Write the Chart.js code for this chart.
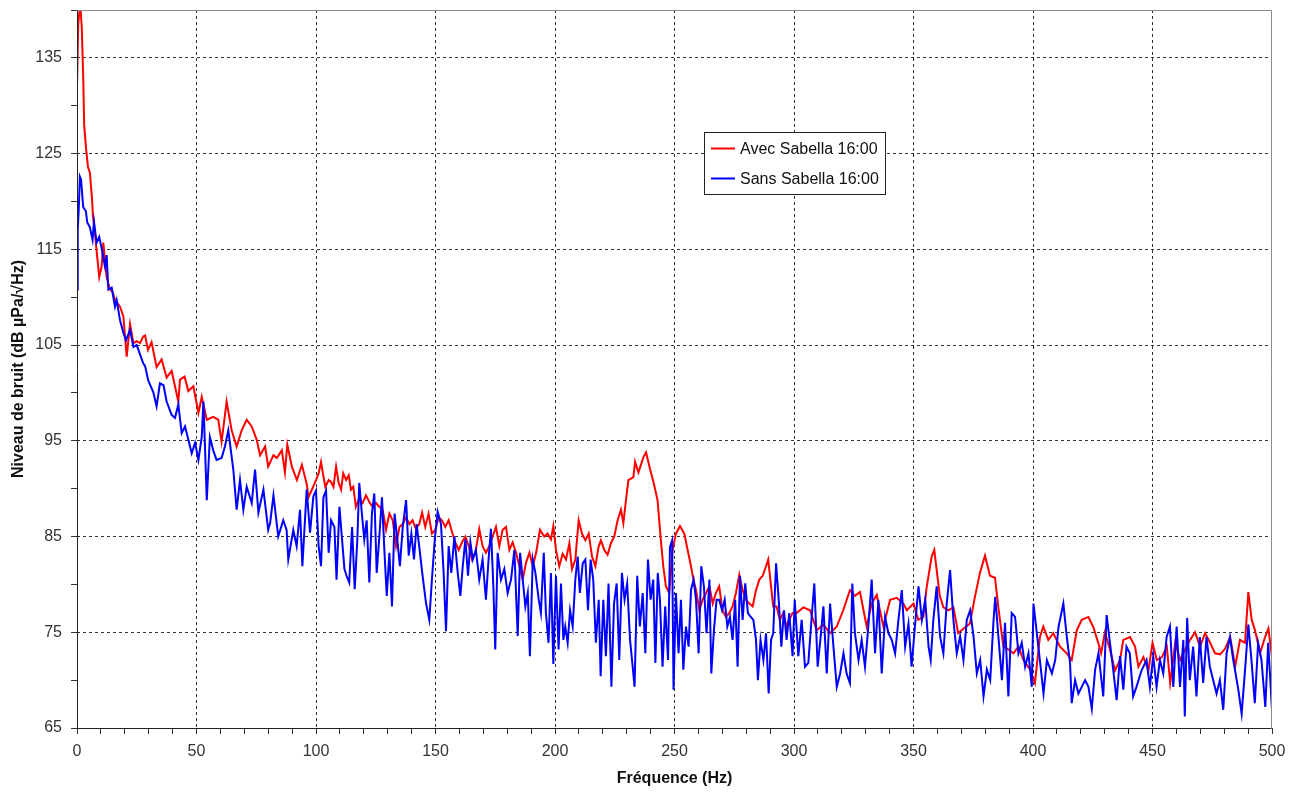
<!DOCTYPE html>
<html lang="fr">
<head>
<meta charset="utf-8">
<title>Niveau de bruit - Sabella</title>
<script src="https://cdn.jsdelivr.net/npm/chart.js@4.4.1/dist/chart.umd.min.js"></script>
<style>
  html, body { margin: 0; padding: 0; background: #fff; }
  #wrap { width: 1300px; height: 794px; }
</style>
</head>
<body>
<div id="wrap"><canvas id="spectre" width="1300" height="794"></canvas></div>
<script>
// ---- données ----
const avecLabel = "Avec Sabella 16:00";
const sansLabel = "Sans Sabella 16:00";

// Avec Sabella (rouge) : fréquence (Hz) / niveau (dB)
const avecFreq = [
  0, 0.5, 1, 1.5, 2, 2.6, 3, 3.8, 4.6, 5.4,
  6.3, 6.7, 7.5, 8.3, 9.3, 10.3, 11, 12.4, 13.8, 15,
  15.9, 18, 19.4, 20.8, 22.2, 23.6, 25, 26.4, 27.7, 28.5,
  29.7, 31.2, 33.3, 35.4, 37.5, 39.6, 42.4, 43.1, 45, 46.6,
  48.7, 50.8, 52.2, 54.3, 57, 59.1, 60.5, 62.6, 64.7, 66.8,
  68.9, 71, 73.1, 75.2, 76.6, 78.7, 80, 82.2, 83.6, 85.7,
  87, 88, 89.9, 92, 94.1, 96.2, 96.8, 98.3,
  100, 101.1, 102.1, 103.1, 103.9, 105.3, 106.3, 107.3, 108.4, 109.5,
  110.5, 111.4, 112.6, 113.7, 114.6, 115.6, 116.7, 118.1, 119.5, 120.9,
  122.3, 123.7, 125.1, 126.5, 127.9, 129.3, 130.7, 132.1, 133.5, 134.9,
  136.3, 137.7, 139.1, 140.4, 141.8, 143.2, 144.4, 145.7, 147.1, 148.5,
  149.9, 151.3, 152.7, 154.1, 155.5, 156.9, 158.3, 159.7, 161.1, 162.5,
  163.9, 165.3, 166.7, 168.3, 169.7, 171.1, 172.5, 173.9, 175.3, 176.7,
  178.1, 179.5, 180.9, 182.3, 183.7, 185.1, 186.5, 187.9, 189.3, 190.7,
  192.1, 193.7, 195.5, 196.9, 198.3, 199.3,
  200.4, 201.8, 203.2, 204.6, 206, 207.1, 208.5, 209.9, 211.3, 212.7,
  214.1, 215.5, 216.9, 218.2, 219.2, 220.6, 222, 223.4, 224.8, 226.2,
  227.6, 228.6, 229.7, 230.7, 232.8, 233.5, 234.9, 237, 238.1, 239.8,
  241.2, 242.9, 244.3, 245.3, 246.4, 247.8, 249.2, 250.6, 252.3, 254.1,
  255.5, 256.9, 257.9, 259, 260.4, 261.8, 263.2, 264.6, 266, 267.3,
  268.7, 270.1, 271.5, 272.9, 274.3, 275.7, 277.1, 278.5, 279.9, 281.3,
  282.7, 284.1, 285.5, 286.9, 288.3, 289.2, 290.4, 291.3, 292.7, 294.1,
  295.5, 296.9, 298, 299.4, 301.1, 303.9, 306.7, 309.5, 312.3, 315.1,
  317.9, 320.6, 323.4, 325.5, 327.6, 330.4, 332.5, 334.6, 337.4, 340.2,
  343, 345.8, 347.2, 350, 352, 354.1, 355.5, 357.6, 358.7, 359.7,
  361, 362.5, 364.6, 366.7, 368.7, 371.5, 373.6, 375.7, 377.8, 379.9,
  382, 384.1, 385.5, 387.6, 389.7, 391.8, 393.9, 396, 398.8, 400.8,
  402.9, 404.3, 406.4, 408.5, 411.3, 414.1, 416.2, 418.3, 420.4, 423.2,
  425.3, 427.4, 428.5, 430.1, 432.2, 434.3, 436.4, 437.8, 440.6, 442.7,
  444.1, 446.2, 448.3, 450, 451.8, 453.9, 456, 457.4, 459.5, 461.6,
  463.7, 465.7, 467.8, 469.9, 472, 474.1, 476.2, 478.3, 480.4, 482.5,
  484.6, 486.6, 488.7, 490.1, 491.5, 492.9, 495, 497.1, 498.5, 500
];
const avecLevel = [
  132, 138.5, 139.8, 140, 138.2, 133, 128, 125.5, 123.6, 123,
  120.2, 118.4, 116.7, 114.6, 112.1, 113.2, 115.7, 112.1, 110.8, 110.5,
  109.7, 109, 108, 103.8, 107.2, 105.2, 105.4, 105.2, 105.9, 106,
  104.5, 105.3, 102.7, 103.5, 101.6, 102.3, 99.1, 101.4, 101.7, 100.2,
  100.7, 97.9, 99.6, 97.2, 97.5, 97.2, 94.9, 99.1, 96.1, 94.4,
  96.1, 97.2, 96.5, 95.1, 93.5, 94.4, 92.3, 93.5, 93.2, 94,
  91.7, 94.6, 92.3, 90.9, 92.5, 90.4, 89.1, 89.9,
  90.9, 91.6, 92.8, 91.3, 90.2, 90.9, 90.7, 90.2, 92.3, 90.6,
  89.9, 91.6, 90.9, 91.4, 89.9, 90.2, 88.1, 89, 88.5, 89.3,
  88.6, 88.1, 88.5, 88.1, 87.8, 85.7, 87.4, 86.7, 84, 86,
  86.3, 87, 86.3, 86.7, 85.8, 86.3, 87.5, 86, 87.4, 85.3,
  85.7, 87, 86.7, 86, 86.7, 85.5, 84.4, 83.6, 84.4, 85,
  84, 82.6, 83.3, 85.8, 84, 83.3, 84, 85, 86, 84,
  85.7, 86, 83.6, 84.4, 83.3, 81.9, 80.5, 82.3, 83.3, 81.9,
  83.3, 85.7, 85, 85.3, 84.7, 86.1,
  83.6, 81.9, 83.2, 82.6, 84.3, 81.6, 82.6, 86.7, 85.3, 84.6,
  85.3, 82.9, 81.9, 83.9, 84.6, 83.6, 83.1, 84.3, 85, 86.7,
  87.8, 86.4, 88.8, 90.9, 91.2, 92.8, 91.7, 93.3, 93.8, 92,
  90.7, 88.8, 84.6, 81.9, 79.8, 79.1, 83.6, 85.3, 86.1, 85.3,
  83.6, 81.9, 80.5, 79.4, 77.3, 78.4, 79.1, 79.8, 78, 79.1,
  79.8, 77.3, 76.6, 77, 77.7, 79.1, 81, 79.4, 78.4, 78,
  77.7, 79.4, 80.5, 80.9, 81.9, 82.6, 79.8, 77.7, 77.7, 76.3,
  77, 75.6, 76.3, 77, 77, 77.6, 77.3, 75.2, 75.8, 74.9,
  75.6, 77.3, 79.4, 78.8, 79.2, 75.6, 78, 78.9, 75.6, 78.4,
  78.6, 78, 77.3, 78, 76.3, 76.6, 79.7, 82.9, 83.6, 81.5,
  78.8, 77.6, 77.3, 77.6, 74.9, 75.5, 75.9, 78.7, 81.2, 83,
  80.9, 80.7, 77.6, 73.5, 73.2, 72.8, 73.5, 72.1, 71.1, 69.7,
  74.5, 75.6, 74.2, 74.9, 73.5, 72.8, 72.1, 75.2, 76.3, 76.6,
  75.5, 73.8, 72.8, 75, 73.2, 71, 72.1, 74.2, 74.5, 73.5,
  71.4, 72.4, 71, 73.9, 72.1, 72.4, 73.5, 69.7, 73.9, 72.1,
  73.2, 74.2, 75, 73.5, 74.9, 73.9, 72.8, 72.7, 73.3, 74.5,
  71.4, 74.2, 73.9, 79.2, 76.3, 75.2, 72.8, 74.5, 75.4, 72.4
];

// Sans Sabella (bleu) : fréquence (Hz) / niveau (dB)
const sansFreq = [
  0, 0.3, 0.7, 1.2, 1.7, 2.6, 3.7, 4.3, 5.4, 6.5,
  7.1, 8.2, 9.3, 10.3, 11.7, 12.4, 13.1, 14.5, 15.9, 16.6,
  18, 19.4, 20.5, 22.2, 23.6, 25, 26.4, 27.7, 28.5, 29.8,
  31.9, 33.3, 34.7, 36.2, 37.5, 39.6, 41, 42.4, 43.8, 45.2,
  46.6, 48, 49.4, 50.8, 52.2, 52.9, 54.3, 55.6, 57, 58.4,
  60.5, 61.9, 63.3, 65.4, 66.8, 68.2, 69.6, 71, 73.1, 74.5,
  75.9, 78, 80, 80.8, 82.2, 84.2, 86.3, 87.7, 88.4, 90.5,
  91.9, 93.3, 94.3, 96.1, 97.5, 98.9,
  100, 101.1, 102.1, 103.1, 104.2, 105.3, 106.3, 107.7, 108.6, 109.8,
  110.9, 111.9, 112.8, 113.9, 115.1, 116.2, 117.3, 118.1, 119.2, 120.2,
  121.2, 122.3, 123.4, 124.4, 125.4, 126.5, 127.6, 128.6, 129.6, 130.7,
  131.8, 132.9, 134, 135.1, 136.3, 137.7, 138.8, 139.9, 141, 142.1,
  143.5, 144.6, 146, 147.4, 148.5, 149.7, 150.9, 152.3, 153.4, 154.4,
  155.5, 156.6, 157.9, 159.3, 160.4, 161.4, 162.5, 163.6, 164.6, 165.6,
  166.9, 168.3, 169.7, 171.1, 172.2, 173.2, 174.2, 175, 176, 177.4,
  178.8, 180.2, 181.6, 183, 184.4, 185.4, 186.5, 187.6, 188.6, 189.5,
  190.7, 191.8, 193.2, 194.1, 195.3, 196.2, 197.3, 198.3, 199.3,
  200.4, 201.5, 202.5, 203.5, 204.3, 205.3, 206.3, 207.4, 208.5, 209.5,
  210.4, 211.6, 212.7, 213.8, 214.9, 216, 217.1, 218.3, 219.1, 220.2,
  221.3, 222.4, 223.6, 224.7, 225.8, 226.9, 228, 229.1, 230.2, 231.4,
  232.5, 233.3, 234.4, 235.5, 236.7, 237.8, 238.9, 240, 241.1, 242,
  243, 243.9, 245, 246.1, 247.3, 248.1, 249, 249.6, 250.6, 251.7,
  252.7, 253.7, 254.8, 255.9, 256.9, 258, 259, 260.1, 261.2, 262.3,
  263.4, 264.6, 265.4, 266.5, 267.6, 268.7, 269.9, 271, 272.1, 273.2,
  274.3, 275.4, 276.4, 277.4, 278.5, 279.6, 280.7, 281.9, 283, 284.1,
  284.9, 286, 287.2, 288.3, 289.4, 290.4, 291.3, 292.5, 293.6, 294.7,
  295.8, 296.9, 298, 299.4, 300.3, 301.8,
  303.2, 304.6, 306, 307.4, 308.5, 309.9, 311.3, 312.3, 313.7, 315.1,
  316.5, 317.9, 319.3, 320.7, 322, 323.4, 324.4, 325.5, 327, 328.3,
  329.7, 331.1, 332.5, 333.9, 335.3, 336.7, 338.1, 339.5, 340.9, 342.3,
  343.7, 345.1, 346.5, 347.9, 349.2, 350.6, 352.1, 353.5, 354.9, 356.3,
  357.2, 358.3, 359.7, 361.1, 362.5, 363.9, 365.3, 366.7, 368.1, 369.5,
  370.9, 372.3, 373.7, 375.1, 376.5, 377.9, 379.3, 380.7, 382.1, 383.5,
  384.2, 385.5, 387, 388.3, 389.7, 391.1, 392.5, 393.9, 395.3, 396.7,
  398.1, 399.5, 400.2, 401.6, 403, 404.4, 405.8, 407.9, 409.3, 410.7,
  412.7, 414.1, 415.5, 416.2, 417.6, 419, 420.4, 421.8, 423.2, 424.6,
  426, 427.4, 428.2, 429.4, 430.8, 432.2, 433.6, 435, 436.4, 437.8,
  439.1, 440.5, 441.9, 443.3, 445.4, 447.5, 448.9, 450.3, 451.7, 453.1,
  454.5, 455.9, 457.3, 458.7, 460.1, 461.5, 462.9, 463.5, 464.5, 465.6,
  467, 468.4, 469.8, 471.2, 472.6, 474, 475.4, 476.8, 478.2, 479.6,
  481, 482.4, 483.8, 485.9, 487.3, 488.7, 490.1, 491.4, 492.8, 494.2,
  495.6, 497.2, 498.4, 500
];
const sansLevel = [
  110.8, 117, 119, 122.6, 122.3, 119.4, 119, 117.8, 117.3, 116,
  117.9, 115.7, 116.3, 115.1, 113.2, 114.4, 110.8, 111, 109, 109.7,
  107.6, 106.3, 105.5, 106.6, 104.8, 105, 104, 103.1, 102.8, 101.3,
  100.1, 98.6, 101, 100.8, 99.1, 97.7, 97.4, 98.8, 95.8, 96.5,
  95.1, 93.7, 94.8, 93, 95.4, 99.1, 88.8, 95.4, 94, 93,
  93.2, 94.4, 96.1, 92, 87.8, 90.9, 87.8, 90.2, 88.5, 92,
  87.5, 89.9, 85.7, 86.4, 89.3, 85, 86.7, 85.7, 82.6, 85.7,
  84, 87.8, 81.9, 89.9, 85.4, 89.2,
  89.8, 84, 81.9, 89.1, 89.8, 83.3, 86.7, 86, 80.5, 88.1,
  84.7, 81.6, 80.9, 80.2, 86, 79.5, 84.7, 90.6, 87.4, 84.7,
  86.7, 80.2, 87.4, 89.5, 81.2, 85, 89.1, 83.6, 78.8, 83.3,
  77.7, 87.4, 84.7, 81.9, 86, 88.8, 83, 85.3, 82.6, 86.3,
  83.3, 80.9, 78.1, 76.3, 80.5, 84.7, 87.6, 86.3, 81.2, 75.1,
  84, 81.2, 85, 81.2, 78.8, 81.9, 84.7, 80.9, 84.4, 82.6,
  83.6, 80.5, 82.6, 78.4, 82.6, 85.8, 79.8, 73.2, 83.3, 80.5,
  81.6, 79.1, 80.5, 83.6, 74.6, 83.3, 80.5, 77.7, 79.1, 72.5,
  82.6, 81.2, 78.4, 77, 83.3, 77, 73.9, 81.2, 71.7,
  80.9, 73.2, 80.1, 74.2, 75.6, 73.9, 77.3, 75.6, 80.5, 82.9,
  79.1, 82.2, 82.6, 77.3, 82.6, 80.5, 73.9, 78.4, 70.4, 78.4,
  72.5, 80.1, 69.3, 78, 80.1, 72.1, 81.2, 78.4, 80.1, 74.2,
  71.4, 69.3, 80.9, 75.6, 79.1, 72.8, 82.6, 78.4, 80.5, 71.8,
  81.2, 78.4, 71.4, 77.7, 72.1, 83.9, 84.6, 69, 79.1, 72.8,
  78.4, 71.1, 75.6, 73.5, 79.4, 80.5, 78.4, 72.8, 81.9, 79.8,
  74.9, 80.5, 70.7, 75.2, 78.4, 78.4, 77.3, 78.4, 75.6, 76.6,
  74.2, 78.4, 71.4, 80.9, 76.3, 80.1, 77, 76.6, 76.3, 74.2,
  70, 74.2, 72.1, 74.9, 68.6, 74.2, 74.9, 82.2, 78.4, 73.5,
  77.3, 74.2, 77, 72.5, 78.4, 72.5,
  76.3, 71.4, 71.8, 76.6, 80.1, 71.4, 74.9, 77.7, 70.7, 78,
  73.5, 69.3, 70.7, 72.8, 70.7, 69.7, 80.1, 74.9, 72.1, 74.2,
  71.4, 75.6, 80.5, 72.8, 78.4, 70.7, 76.6, 74.9, 74.2, 72.8,
  76.3, 79.4, 73.5, 75.9, 71.4, 75.6, 79.8, 76.3, 78.4, 73.5,
  72.1, 76.3, 79.8, 74.6, 72.8, 78, 81.5, 76.3, 72.8, 74.6,
  72.1, 76.3, 77.3, 74.6, 70.7, 72.1, 68.3, 71.1, 70, 76.3,
  78.7, 74.6, 70, 76, 68.3, 77, 76.6, 72.8, 73.9, 71.4,
  72.8, 69.3, 78, 74.9, 71.8, 68.6, 72.1, 70.7, 72.1, 75.6,
  78, 74.6, 71.8, 67.6, 70, 68.6, 69.3, 70, 69.3, 67,
  71.1, 72.8, 71, 68.3, 76.8, 73.9, 71, 67.9, 72.5, 69,
  73.5, 72.8, 68.3, 69.3, 71, 72.1, 69.3, 72.5, 69.3, 72.1,
  70.7, 74.5, 75.6, 69.3, 75.6, 69.3, 74.2, 66.2, 76.5, 70,
  73.5, 68.3, 74.5, 69.7, 74.5, 71.4, 70, 68.6, 70, 66.9,
  72.8, 74.5, 72.1, 69, 66.5, 71, 75.8, 72.1, 67.6, 73.9,
  72.1, 67.2, 73.9, 66.9
];

// graduations
const freqTicks = [0, 50, 100, 150, 200, 250, 300, 350, 400, 450, 500];
const niveauTicks = [65, 75, 85, 95, 105, 115, 125, 135];

// ---- rendu ----
const FONT = '"Liberation Sans", Arial, Helvetica, sans-serif';

function points(xs, ys) {
  return xs.map((x, i) => ({ x: x, y: ys[i] }));
}

// cadre : axes foncés à gauche / en bas, bord gris en haut / à droite
const cadre = {
  id: "cadre",
  afterDatasetsDraw(chart) {
    const { ctx, chartArea: a } = chart;
    const l = Math.round(a.left) + 0.5, r = Math.round(a.right) - 0.5;
    const t = Math.round(a.top) + 0.5, b = Math.round(a.bottom) + 0.5;
    ctx.save();
    ctx.lineWidth = 1;
    ctx.strokeStyle = "#8c8c8c";
    ctx.beginPath();
    ctx.moveTo(l, t); ctx.lineTo(r, t); ctx.lineTo(r, b);
    ctx.stroke();
    ctx.strokeStyle = "#222";
    ctx.beginPath();
    ctx.moveTo(l, t); ctx.lineTo(l, b); ctx.lineTo(r, b);
    ctx.stroke();
    ctx.restore();
  }
};

// légende encadrée dans la zone du graphique
const legendeBox = {
  id: "legendeBox",
  afterDraw(chart) {
    const { ctx } = chart;
    const x = 704.5, y = 132.5, w = 181, h = 62;
    ctx.save();
    ctx.fillStyle = "#fff";
    ctx.fillRect(x, y, w, h);
    ctx.strokeStyle = "#222";
    ctx.lineWidth = 1;
    ctx.strokeRect(x, y, w, h);
    ctx.font = "16px " + FONT;
    ctx.textBaseline = "middle";
    ctx.textAlign = "left";
    chart.data.datasets.forEach((ds, i) => {
      const ly = 148.5 + i * 30;
      ctx.strokeStyle = ds.borderColor;
      ctx.lineWidth = 2;
      ctx.beginPath();
      ctx.moveTo(711, ly); ctx.lineTo(735, ly);
      ctx.stroke();
      ctx.fillStyle = "#111";
      ctx.fillText(ds.label, 740, ly + 1);
    });
    ctx.restore();
  }
};

new Chart(document.getElementById("spectre"), {
  type: "line",
  data: {
    datasets: [
      {
        label: avecLabel,
        data: points(avecFreq, avecLevel),
        borderColor: "#ff0000",
        borderWidth: 2,
        pointRadius: 0,
        tension: 0,
        order: 1
      },
      {
        label: sansLabel,
        data: points(sansFreq, sansLevel),
        borderColor: "#0000ff",
        borderWidth: 2,
        pointRadius: 0,
        tension: 0,
        order: 0
      }
    ]
  },
  options: {
    responsive: false,
    animation: false,
    devicePixelRatio: 1,
    layout: { padding: { left: 0, top: 10, right: 28, bottom: 0 } },
    plugins: {
      legend: { display: false },
      tooltip: { enabled: false }
    },
    scales: {
      x: {
        type: "linear",
        min: 0,
        max: 500,
        afterFit(s) { s.height = 66; },
        ticks: {
          stepSize: 10,
          autoSkip: false,
          maxRotation: 0,
          padding: 8,
          color: "#333",
          font: { family: FONT, size: 16 },
          callback: (v) => (freqTicks.includes(v) ? String(v) : "")
        },
        grid: {
          color: (c) =>
            c.tick && freqTicks.includes(c.tick.value) && c.tick.value !== 0 && c.tick.value !== 500
              ? "#333" : "rgba(0,0,0,0)",
          tickColor: "#333",
          tickLength: 6,
          lineWidth: 1
        },
        border: { display: false, dash: [3, 3] },
        title: {
          display: true,
          text: "Fréquence (Hz)",
          color: "#111",
          font: { family: FONT, size: 16, weight: "bold" },
          padding: { top: 0, bottom: 6 }
        }
      },
      y: {
        type: "linear",
        min: 65,
        max: 140,
        afterFit(s) {
          s.width = 77;
          s.paddingTop = 0;
          s.paddingBottom = 0;
        },
        ticks: {
          stepSize: 5,
          autoSkip: false,
          padding: 9,
          color: "#333",
          font: { family: FONT, size: 16 },
          callback: (v) => (niveauTicks.includes(v) ? String(v) : "")
        },
        grid: {
          color: (c) =>
            c.tick && niveauTicks.includes(c.tick.value) && c.tick.value !== 65
              ? "#333" : "rgba(0,0,0,0)",
          tickColor: "#333",
          tickLength: 6,
          lineWidth: 1
        },
        border: { display: false, dash: [3, 3] },
        title: {
          display: true,
          text: "Niveau de bruit (dB µPa/√Hz)",
          color: "#111",
          font: { family: FONT, size: 16, weight: "bold" },
          padding: { top: 9, bottom: 0 }
        }
      }
    }
  },
  plugins: [cadre, legendeBox]
});
</script>
</body>
</html>
